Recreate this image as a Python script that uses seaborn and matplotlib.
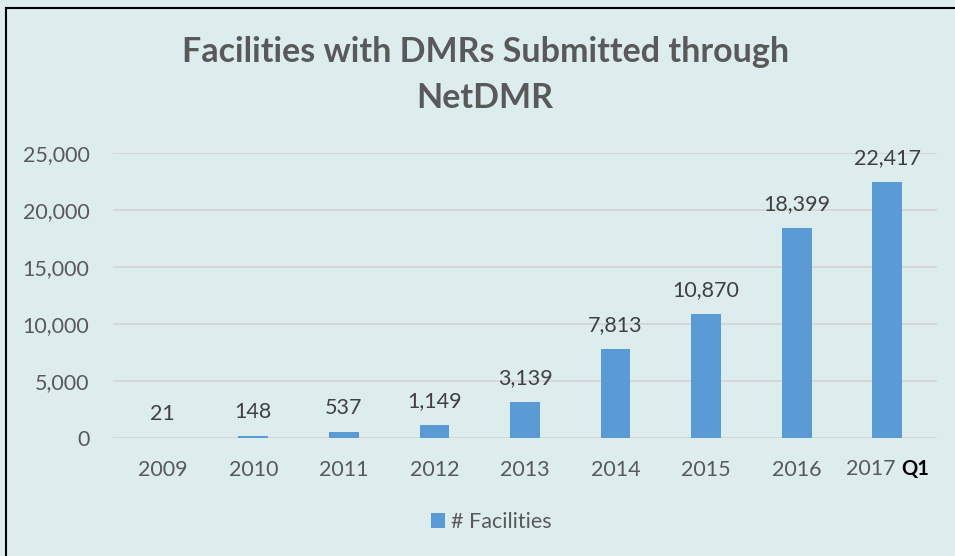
import matplotlib
matplotlib.use("Agg")
import matplotlib.pyplot as plt
import seaborn as sns
from matplotlib.patches import Rectangle
from matplotlib.transforms import blended_transform_factory

# data
years = ["2009", "2010", "2011", "2012", "2013", "2014", "2015", "2016", "2017"]
facilities = [21, 148, 537, 1149, 3139, 7813, 10870, 18399, 22417]
y_ticks = [0, 5000, 10000, 15000, 20000, 25000]

bg = "#DDEDED"
bar_color = "#5B9BD5"
text_color = "#595959"
fs = 15.5

sns.set_theme(style="white")
plt.rcParams["font.family"] = ["Lato", "DejaVu Sans"]

fig = plt.figure(figsize=(9.55, 5.56), dpi=100)
fig.patch.set_facecolor(bg)
ax = fig.add_axes([113 / 955, (556 - 438) / 556, (937 - 113) / 955, (438 - 153) / 556])
ax.set_facecolor(bg)

sns.barplot(x=years, y=facilities, color=bar_color, width=0.33, saturation=1,
            linewidth=0, label="# Facilities", ax=ax)

ax.set_ylim(0, 25000)
ax.set_xlim(-0.55, 8.55)
ax.set_yticks(y_ticks)
ax.set_yticklabels([f"{v:,}" for v in y_ticks])
ax.grid(axis="y", color="#D6D2D2", linewidth=1.2)
ax.set_axisbelow(True)
for s in ax.spines.values():
    s.set_visible(False)
ax.tick_params(axis="both", length=0, labelsize=fs, labelcolor=text_color)
ax.tick_params(axis="x", pad=16)
ax.tick_params(axis="y", pad=17)

# last tick: "2017" + bold "Q1"
labels = years[:-1] + [""]
ax.set_xticks(range(len(years)))
ax.set_xticklabels(labels)
tr = blended_transform_factory(ax.transData, ax.transAxes)
ax.text(8.09, -0.11, "2017", transform=tr, ha="right", va="center",
        fontsize=fs, color=text_color)
ax.text(8.15, -0.11, "Q1", transform=tr, ha="left", va="center",
        fontsize=fs - 1, color="black", fontweight="bold")

ax.bar_label(ax.containers[0], labels=[f"{v:,}" for v in facilities],
             padding=10, fontsize=fs, color="#404040")

ax.set_xlabel("")
ax.set_ylabel("")

fig.text(0.508, 1 - 75 / 556, "Facilities with DMRs Submitted through\nNetDMR",
         ha="center", va="center", fontsize=24.5, fontweight="bold",
         color=text_color, linespacing=1.5)

leg = ax.legend(loc="center", bbox_to_anchor=(0.459, -0.295), frameon=False,
                fontsize=fs, handlelength=0.65, handleheight=0.65,
                handletextpad=0.3)
for t in leg.get_texts():
    t.set_color(text_color)

fig.patches.append(Rectangle((6 / 955, -0.05), 1.5, 1.0 - 8 / 556 + 0.05,
                             transform=fig.transFigure, fill=False,
                             edgecolor="black", linewidth=1.5))

fig.savefig("out.png", dpi=100, facecolor=bg)
